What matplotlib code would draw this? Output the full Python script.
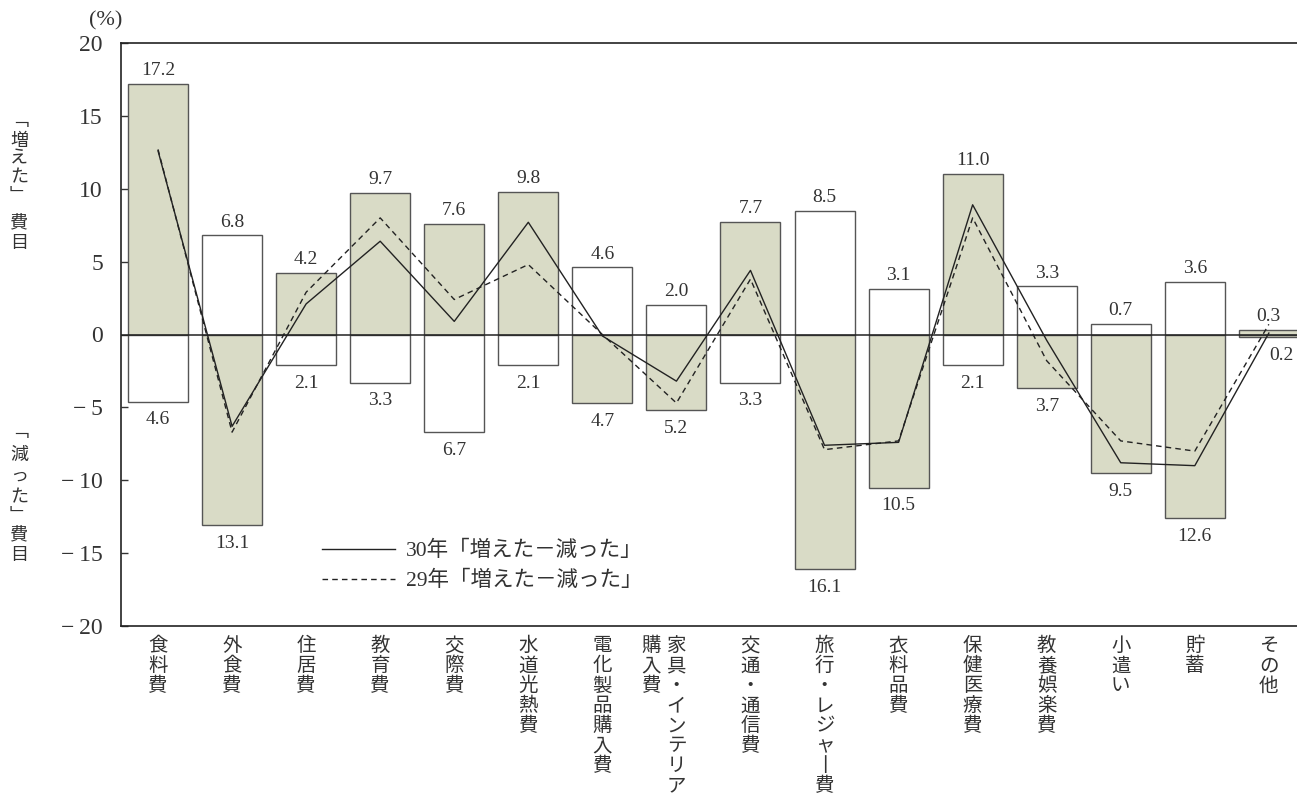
import matplotlib
matplotlib.use("Agg")
import matplotlib.pyplot as plt
import numpy as np

# ---------------- data ----------------
categories = ["食料費", "外食費", "住居費", "教育費", "交際費", "水道光熱費",
              "電化製品購入費", "家具・インテリア\n購入費", "交通・通信費",
              "旅行・レジャー費", "衣料品費", "保健医療費", "教養娯楽費",
              "小遣い", "貯蓄", "その他"]
increased = [17.2, 6.8, 4.2, 9.7, 7.6, 9.8, 4.6, 2.0, 7.7, 8.5, 3.1, 11.0, 3.3, 0.7, 3.6, 0.3]
decreased = [4.6, 13.1, 2.1, 3.3, 6.7, 2.1, 4.7, 5.2, 3.3, 16.1, 10.5, 2.1, 3.7, 9.5, 12.6, 0.2]
net_h30 = [12.6, -6.3, 2.1, 6.4, 0.9, 7.7, -0.1, -3.2, 4.4, -7.6, -7.4, 8.9, -0.4, -8.8, -9.0, 0.1]
net_h29 = [12.7, -6.7, 2.9, 8.0, 2.4, 4.8, 0.0, -4.7, 3.8, -7.9, -7.3, 8.0, -1.8, -7.3, -8.0, 0.7]
yticks = [20, 15, 10, 5, 0, -5, -10, -15, -20]
legend_labels = ["30年「増えた－減った」", "29年「増えた－減った」"]

# ---------------- style ----------------
W, H = 1297, 796
CJK = "Noto Sans CJK JP"
SERIF = "Liberation Serif"
MIX = [SERIF, CJK]
TXT = "#333333"
FILL = "#d9dbc6"
EDGE = "#555555"

fig = plt.figure(figsize=(W / 100, H / 100), dpi=100)
ax = fig.add_axes([121 / W, 1 - 626 / H, (W - 121) / W, (626 - 43) / H])

x = np.arange(len(categories))
bw = 0.81

inc_colors = [FILL if a >= b else "white" for a, b in zip(increased, decreased)]
dec_colors = [FILL if b > a else "white" for a, b in zip(increased, decreased)]
dec_colors[-1] = FILL

ax.bar(x, increased, width=bw, color=inc_colors, edgecolor=EDGE, linewidth=1.0, zorder=2)
ax.bar(x, [-d for d in decreased], width=bw, color=dec_colors, edgecolor=EDGE, linewidth=1.0, zorder=2)

ax.axhline(0, color="#222222", lw=1.1, zorder=3)

l1, = ax.plot(x, net_h30, color="#222222", lw=1.0, zorder=4, label=legend_labels[0])
l2, = ax.plot(x, net_h29, color="#222222", lw=1.0, ls=(0, (4, 3)), zorder=4, label=legend_labels[1])

# value labels
for i, (a, b) in enumerate(zip(increased, decreased)):
    ax.annotate(f"{a:.1f}", xy=(i, a), xytext=(0, 3.5), textcoords="offset points",
                ha="center", va="bottom", fontsize=14, family=SERIF, color=TXT, zorder=5)
    dx = 9 if i == len(categories) - 1 else 0
    ax.annotate(f"{b:.1f}", xy=(i, -b), xytext=(dx, -7), textcoords="offset points",
                ha="center", va="top", fontsize=14, family=SERIF, color=TXT, zorder=5)

ax.set_xlim(-0.5, 15.38)
ax.set_ylim(-20, 20)
ax.set_yticks(yticks)
ax.set_yticklabels([("\u2212\u2009" + str(abs(v))) if v < 0 else str(v) for v in yticks],
                   fontsize=17, family=SERIF, color=TXT)
ax.tick_params(axis="y", direction="in", length=5, width=1.0, pad=13, colors="#333333",
               labelcolor=TXT)
ax.set_xticks([])
for s in ["left", "top", "bottom"]:
    ax.spines[s].set_color("#222222")
    ax.spines[s].set_linewidth(1.2)
ax.spines["right"].set_visible(False)

# vertical category labels
step_pt = 14.4
first_pt = 14.3
col_pt = 18.0
xa = ax.get_xaxis_transform()
for i, name in enumerate(categories):
    cols = name.split("\n")
    for c, col in enumerate(cols):
        for k, ch in enumerate(col):
            dx = -c * col_pt
            dy = -(first_pt + k * step_pt)
            if ch == "ー":
                ch = "丨"
            ax.annotate(ch, xy=(i, 0), xycoords=xa, xytext=(dx, dy), textcoords="offset points",
                        ha="center", va="center", fontsize=14, family=CJK, color=TXT,
                        annotation_clip=False)

# (%) unit
fig.text(106 / W, 1 - 21 / H, "(%)", ha="center", va="center", fontsize=16, family=SERIF, color=TXT)

# left vertical labels
def vlabel(chars, ys, xpix=19):
    for ch, yp in zip(chars, ys):
        fig.text(xpix / W, 1 - yp / H, ch, ha="center", va="center", fontsize=13,
                 family=CJK, color=TXT)

vlabel(["﹁", "増", "え", "た", "﹂", "費", "目"], [121, 141, 159, 177, 196, 222, 243])
vlabel(["﹁", "減", "っ", "た", "﹂", "費", "目"], [432, 455, 476, 497, 516, 534, 555])

# legend
leg = ax.legend(handles=[l1, l2], loc="upper left",
                bbox_to_anchor=((322 - 121) / (W - 121), (626 - 541) / (626 - 43)),
                frameon=False, borderpad=0, borderaxespad=0, handlelength=3.4,
                handletextpad=0.5, labelspacing=0.45,
                prop={"family": MIX, "size": 15.5})
for t in leg.get_texts():
    t.set_color(TXT)

fig.savefig("out.png", dpi=100)
